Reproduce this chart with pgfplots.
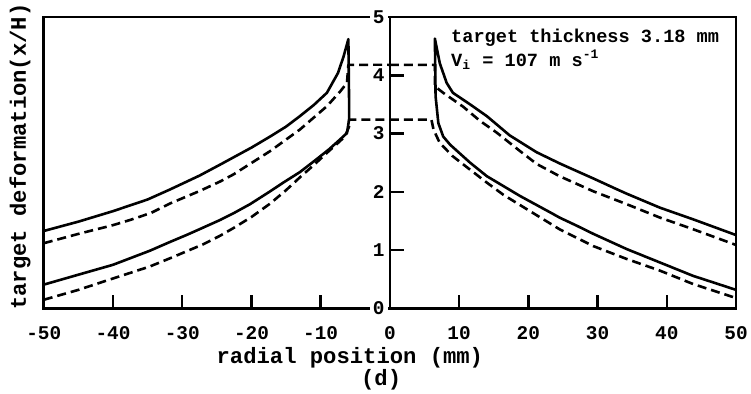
\documentclass[border=0pt]{standalone}
\usepackage{fontspec}
\setmainfont{Liberation Mono}
\usepackage{pgfplots}
\pgfplotsset{compat=1.18}
\begin{document}
\begin{tikzpicture}
\begin{axis}[name=main, scale only axis, width=346.1pt, height=145.75pt,
  xmin=-50, xmax=50, ymin=0, ymax=5, clip=false,
  axis line style={line width=1.3pt},
  xtick={-50,-40,...,50},
  xmajorticks=false,
  ytick=\empty,
  xlabel={radial position (mm)},
  xlabel style={font=\fontsize{11.1}{13}\selectfont\bfseries, at={(axis description cs:0.4422,-0.1698)}, anchor=center},
  ylabel={target deformation(x/H)},
  ylabel style={font=\fontsize{11.1}{13}\selectfont\bfseries, at={(axis description cs:-0.0344,0.5213)}, anchor=center},
  every axis plot/.append style={line join=round},
]
% left: solid (upper curve, spike, lower curve)
\addplot[black, line width=1.3pt] coordinates {
(-50,1.33) (-45,1.49) (-40,1.67) (-35,1.87) (-31.8,2.04) (-27.5,2.28) (-24.5,2.47)
(-20,2.76) (-17.3,2.95) (-15,3.12) (-13,3.30) (-11,3.49) (-9.1,3.70) (-7.5,4.04)
(-6.7,4.32) (-6.0,4.62)
(-5.9,3.60) (-5.9,3.24) (-6.2,3.01) (-7.2,2.90) (-8.8,2.73) (-10.6,2.56) (-13,2.34)
(-15.4,2.16) (-17.3,2.01) (-20.2,1.79) (-22.5,1.64) (-24.5,1.52) (-27.5,1.36) (-29.4,1.26)
(-31.8,1.14) (-34.7,0.99) (-40,0.75) (-45,0.58) (-50,0.41)
};
% left: dashed upper
\addplot[black, line width=1.3pt, dash pattern=on 4.5pt off 2.5pt] coordinates {
(-50,1.12) (-45,1.28) (-40,1.43) (-37.5,1.52) (-34.5,1.64) (-31.8,1.80) (-27.4,2.02)
(-24.5,2.18) (-22.6,2.30) (-17.3,2.70) (-13,3.07) (-9.1,3.47) (-7.2,3.72) (-6.2,3.87)
(-6.0,4.18) (0,4.18)
};
% left: dashed lower
\addplot[black, line width=1.3pt, dash pattern=on 4.5pt off 2.5pt] coordinates {
(-50,0.15) (-45,0.32) (-40.9,0.48) (-34.7,0.72) (-31.8,0.86) (-29.4,0.98) (-27,1.10)
(-24.5,1.25) (-22.6,1.38) (-20,1.57) (-17.3,1.80) (-15,2.03) (-13,2.25) (-11,2.46)
(-9.1,2.67) (-7.5,2.84) (-6.5,2.95) (-5.9,3.12) (-5.9,3.24) (0,3.24)
};
% right: solid (lower curve, spike, upper curve)
\addplot[black, line width=1.3pt] coordinates {
(50,0.32) (43.8,0.56) (39,0.79) (34.2,1.02) (29.4,1.28) (27,1.42) (24.5,1.56)
(23.6,1.62) (18.8,1.93) (14.0,2.27) (11.6,2.50) (8.7,2.81) (7.7,2.95) (7.0,3.18)
(6.6,3.64) (6.5,4.63)
(7.2,4.21) (8.2,3.87) (9.1,3.70) (11.6,3.50) (14.0,3.30) (17.3,2.97) (21.2,2.68)
(24.5,2.49) (26,2.41) (29.4,2.23) (32.7,2.05) (34.2,1.97) (39,1.73) (43.8,1.53) (50,1.26)
};
% right: dashed upper
\addplot[black, line width=1.3pt, dash pattern=on 4.5pt off 2.5pt] coordinates {
(0,4.18) (6.5,4.18) (6.5,3.81) (7.7,3.70) (10.6,3.46) (13,3.22) (15.4,3.02)
(18.8,2.70) (21.2,2.48) (24.5,2.27) (29.4,2.01) (34.2,1.79) (39,1.56) (43.8,1.36) (50,1.09)
};
% right: dashed lower
\addplot[black, line width=1.3pt, dash pattern=on 4.5pt off 2.5pt] coordinates {
(0,3.24) (6.0,3.24) (6.3,3.07) (7.2,2.84) (9.1,2.61) (11.6,2.38) (14.0,2.16)
(16.4,1.95) (21.2,1.60) (24.5,1.36) (29.4,1.07) (34.2,0.85) (39,0.65) (43.8,0.42) (50,0.18)
};
\node[font=\fontsize{9.3}{11}\selectfont\bfseries, anchor=base west, inner sep=0pt]
  at (axis cs:8.8,4.57) {target thickness 3.18 mm};
\node[font=\fontsize{9.3}{11}\selectfont\bfseries, anchor=base west, inner sep=0pt]
  at (axis cs:8.8,4.15) {V\textsubscript{i} = 107 m s\textsuperscript{-1}};
\node[font=\fontsize{11.1}{13}\selectfont\bfseries, anchor=center]
  at (axis description cs:0.4873,-0.2453) {(d)};
\end{axis}
% x ticks and x tick labels
\begin{axis}[at={(main.south west)}, anchor=south west, scale only axis,
  width=346.1pt, height=145.75pt,
  xmin=-50, xmax=50, ymin=0, ymax=5, clip=false,
  axis x line*=bottom, axis y line=none,
  axis line style={line width=1.3pt},
  xtick={-40,-30,-20,-10,10,20,30,40}, xticklabels={},
  tick align=inside, major tick length=7pt,
  tick style={line width=1.2pt, black},
]
\node[font=\fontsize{9.7}{11}\selectfont\bfseries, anchor=center] at (axis description cs:0.0,-0.084) {-50};
\node[font=\fontsize{9.7}{11}\selectfont\bfseries, anchor=center] at (axis description cs:0.1,-0.084) {-40};
\node[font=\fontsize{9.7}{11}\selectfont\bfseries, anchor=center] at (axis description cs:0.2,-0.084) {-30};
\node[font=\fontsize{9.7}{11}\selectfont\bfseries, anchor=center] at (axis description cs:0.3,-0.084) {-20};
\node[font=\fontsize{9.7}{11}\selectfont\bfseries, anchor=center] at (axis description cs:0.4,-0.084) {-10};
\node[font=\fontsize{9.7}{11}\selectfont\bfseries, anchor=center] at (axis description cs:0.5,-0.084) {0};
\node[font=\fontsize{9.7}{11}\selectfont\bfseries, anchor=center] at (axis description cs:0.6,-0.084) {10};
\node[font=\fontsize{9.7}{11}\selectfont\bfseries, anchor=center] at (axis description cs:0.7,-0.084) {20};
\node[font=\fontsize{9.7}{11}\selectfont\bfseries, anchor=center] at (axis description cs:0.8,-0.084) {30};
\node[font=\fontsize{9.7}{11}\selectfont\bfseries, anchor=center] at (axis description cs:0.9,-0.084) {40};
\node[font=\fontsize{9.7}{11}\selectfont\bfseries, anchor=center] at (axis description cs:1.0,-0.084) {50};
\end{axis}
% y axis at x = 0
\begin{axis}[at={(main.south)}, anchor=south west, scale only axis,
  width=173.05pt, height=145.75pt,
  xmin=0, xmax=50, ymin=0, ymax=5,
  hide x axis, axis y line*=left,
  axis line style={line width=1.3pt},
  ytick={0,1,2,3,4,5}, yticklabels={0,1,2,3,4,5},
  tick align=inside, major tick length=7pt,
  tick style={line width=1.2pt, black},
  yticklabel style={font=\fontsize{9.7}{11}\selectfont\bfseries, fill=white, inner sep=1.5pt, xshift=-1pt},
]
\end{axis}
\pgfresetboundingbox
\useasboundingbox ([xshift=-21.9pt,yshift=-42.25pt]main.south west) rectangle ([xshift=353.6pt,yshift=154.25pt]main.south west);
\end{tikzpicture}
\end{document}
